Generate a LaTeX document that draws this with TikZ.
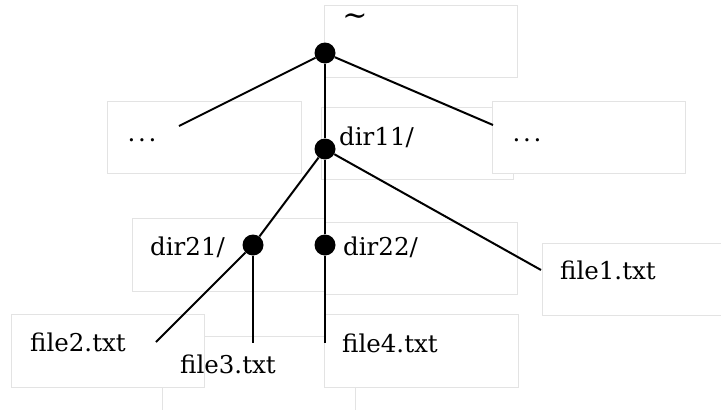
\documentclass[tikz,border=0pt]{standalone}
\usepackage{fontspec}
\setmainfont{DejaVu Serif}
\newcommand{\spreaddots}{.\kern2.8pt.\kern2.8pt.}
\begin{document}
\begin{tikzpicture}[x=1pt,y=-1pt]
\tikzset{
  labelbox/.style={draw=black!11,fill=white,line width=0.8pt},
  edge/.style={line width=2pt},
  dirdot/.style={circle,fill=black,inner sep=0pt,minimum size=21pt},
  lbl/.style={inner sep=0pt,font=\fontsize{24.5}{29}\selectfont},
}
\useasboundingbox (0,0) rectangle (721,410);

% faint label frames, later ones covering earlier ones
\draw[labelbox] (324,5) rectangle (517,77);
\draw[labelbox] (107,101) rectangle (301,173);
\draw[labelbox] (321,107) rectangle (513,179);
\draw[labelbox] (492,101) rectangle (685,173);
\draw[labelbox] (132,218) rectangle (325,291);
\draw[labelbox] (324,222) rectangle (517,294);
\draw[labelbox] (542,243) rectangle (736,315);
\draw[labelbox] (162,336) rectangle (355,414);
\draw[labelbox] (11,314) rectangle (204,387);
\draw[labelbox] (324,314) rectangle (518,387);

% directory points
\node[dirdot] (root) at (325,53) {};
\node[dirdot] (dir11) at (325,149) {};
\node[dirdot] (dir21) at (253,245) {};
\node[dirdot] (dir22) at (325,245) {};

% free ends of the leaf connectors
\coordinate (leftend) at (179,126);
\coordinate (rightend) at (493,125);
\coordinate (f1end) at (541,270);
\coordinate (f2end) at (156,342);
\coordinate (f3end) at (253,343);
\coordinate (f4end) at (325,343);

% tree edges
\draw[edge] (root) -- (leftend);
\draw[edge] (root) -- (rightend);
\draw[edge] (root) -- (dir11);
\draw[edge] (dir11) -- (dir21);
\draw[edge] (dir11) -- (dir22);
\draw[edge] (dir11) -- (f1end);
\draw[edge] (dir21) -- (f2end);
\draw[edge] (dir21) -- (f3end);
\draw[edge] (dir22) -- (f4end);

% labels
\node[lbl,font=\fontsize{30}{34}\selectfont] (troot) at (355,20) {\char"007E};
\node[lbl,anchor=base] (tleft) at (142,141) {\spreaddots};
\node[lbl,anchor=base] (tright) at (527,141) {\spreaddots};
\node[lbl,anchor=base west] (t11) at (339,145) {dir11/};
\node[lbl,anchor=base west] (t21) at (150,255) {dir21/};
\node[lbl,anchor=base west] (t22) at (343,255) {dir22/};
\node[lbl,anchor=base west] (tf1) at (560,279) {file1.txt};
\node[lbl,anchor=base west] (tf2) at (30,351) {file2.txt};
\node[lbl,anchor=base west] (tf3) at (180,373) {file3.txt};
\node[lbl,anchor=base west] (tf4) at (342,352) {file4.txt};
\end{tikzpicture}
\end{document}
